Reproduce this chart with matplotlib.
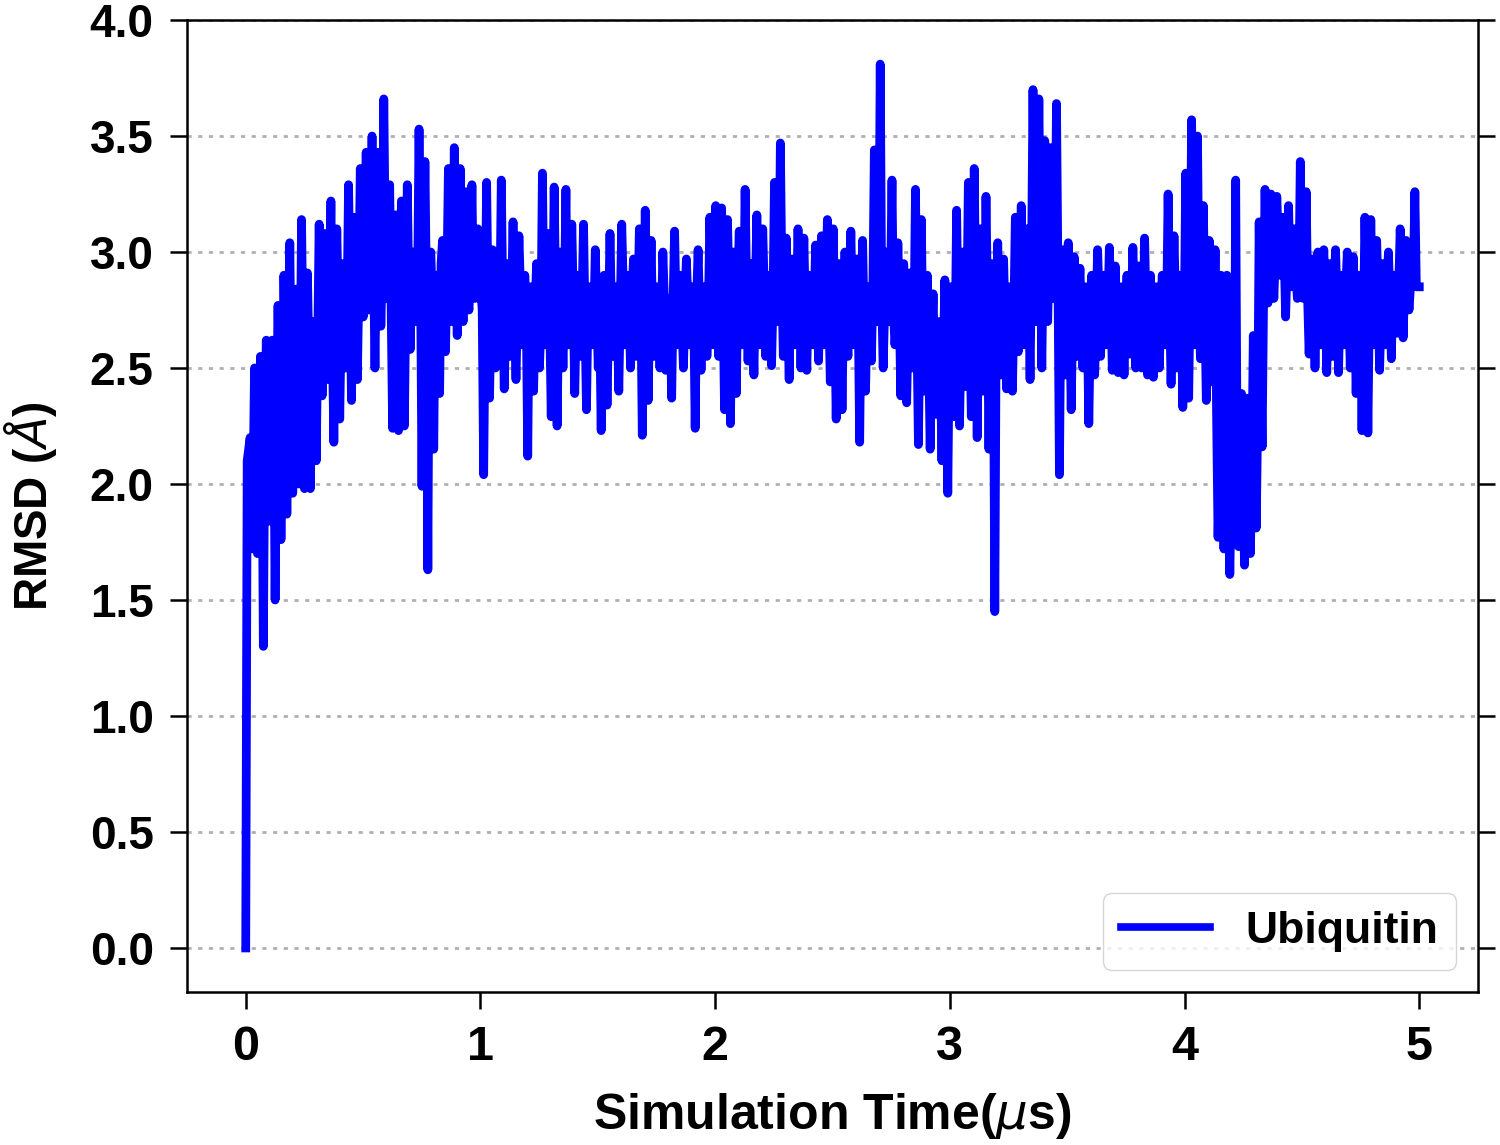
import matplotlib.pyplot as plt
import numpy as np

plt.rcParams['font.family'] = ['Liberation Sans', 'DejaVu Sans']
plt.rcParams['mathtext.fontset'] = 'dejavusans'

# RMSD (A): spike values, 40 per 0.5 us block
rmsd_00 = [0.0, 2.15, 1.72, 2.5, 1.7, 2.55, 1.3, 2.62, 1.84, 2.62,
           1.5, 2.77, 1.76, 2.9, 1.87, 3.04, 1.96, 2.84, 2.0, 3.14,
           1.98, 2.91, 1.98, 2.7, 2.1, 3.12, 2.38, 3.08, 2.45, 3.22,
           2.18, 3.1, 2.28, 2.95, 2.5, 3.29, 2.36, 3.15, 2.45, 3.36]
rmsd_05 = [2.72, 3.43, 2.75, 3.5, 2.5, 3.43, 2.68, 3.66, 2.8, 3.29,
           2.24, 3.16, 2.23, 3.22, 2.25, 3.29, 2.58, 3.0, 2.7, 3.53,
           1.99, 3.39, 1.63, 3.0, 2.15, 2.9, 2.39, 3.05, 2.57, 3.36,
           2.7, 3.45, 2.64, 3.36, 2.7, 3.26, 2.75, 3.29, 2.8, 3.1]
rmsd_10 = [2.85, 2.04, 3.3, 2.37, 3.01, 2.5, 2.9, 3.31, 2.41, 2.95,
           2.55, 3.13, 2.45, 3.07, 2.6, 2.9, 2.12, 2.85, 2.4, 2.95,
           2.5, 3.34, 2.6, 3.08, 2.29, 3.28, 2.25, 3.0, 2.5, 3.27,
           2.6, 3.12, 2.39, 2.9, 2.55, 3.12, 2.32, 2.85, 2.6, 3.01]
rmsd_15 = [2.5, 2.23, 2.9, 2.34, 3.08, 2.55, 2.85, 2.4, 3.12, 2.6,
           2.9, 2.5, 2.97, 2.55, 3.1, 2.21, 3.18, 2.36, 3.05, 2.55,
           2.85, 2.5, 3.0, 2.49, 2.8, 2.37, 3.09, 2.6, 2.9, 2.5,
           2.97, 2.6, 2.85, 2.24, 3.01, 2.49, 2.85, 2.55, 3.15, 2.6]
rmsd_20 = [3.2, 2.55, 3.19, 2.32, 3.14, 2.26, 3.0, 2.39, 3.09, 2.6,
           3.27, 2.53, 2.95, 2.47, 3.16, 2.6, 3.1, 2.55, 2.9, 2.51,
           3.3, 2.7, 3.47, 2.55, 3.06, 2.45, 2.97, 2.6, 3.1, 2.5,
           3.06, 2.49, 2.9, 2.6, 3.03, 2.53, 3.07, 2.6, 3.14, 2.44]
rmsd_25 = [3.1, 2.28, 2.95, 2.32, 3.0, 2.55, 3.09, 2.6, 2.97, 2.18,
           3.05, 2.4, 2.85, 2.53, 3.44, 2.7, 3.81, 2.5, 3.0, 2.7,
           3.31, 2.6, 3.04, 2.38, 2.95, 2.35, 2.91, 2.5, 3.27, 2.17,
           3.14, 2.4, 2.9, 2.15, 2.82, 2.3, 2.7, 2.1, 2.88, 1.96]
rmsd_30 = [2.85, 2.29, 3.18, 2.25, 3.0, 2.42, 3.3, 2.29, 3.36, 2.2,
           3.1, 2.4, 3.24, 2.15, 2.95, 1.45, 3.04, 2.47, 2.97, 2.41,
           2.85, 2.4, 3.15, 2.57, 3.2, 2.6, 3.1, 2.45, 3.7, 2.7,
           3.66, 2.5, 3.48, 2.7, 3.45, 2.8, 3.64, 2.04, 3.01, 2.47]
rmsd_35 = [3.04, 2.32, 2.98, 2.55, 2.93, 2.5, 2.85, 2.26, 2.9, 2.47,
           3.01, 2.55, 2.9, 2.6, 3.02, 2.49, 2.94, 2.48, 2.85, 2.47,
           2.9, 2.56, 3.02, 2.5, 2.94, 2.5, 3.06, 2.47, 2.9, 2.46,
           2.85, 2.5, 2.9, 2.6, 3.25, 2.43, 3.07, 2.5, 2.9, 2.33]
rmsd_40 = [3.34, 2.37, 3.57, 2.6, 3.5, 2.54, 3.2, 2.36, 3.05, 2.44,
           3.01, 1.77, 2.9, 1.72, 2.9, 1.61, 2.3, 3.31, 1.73, 2.39,
           1.65, 2.37, 1.7, 2.64, 1.81, 3.13, 2.16, 3.27, 2.78, 3.25,
           2.8, 3.24, 2.9, 3.15, 2.72, 3.2, 2.85, 3.1, 2.8, 3.39]
rmsd_45 = [2.8, 3.26, 2.56, 2.97, 2.5, 3.0, 2.6, 3.01, 2.48, 2.95,
           2.55, 3.01, 2.48, 2.9, 2.6, 3.0, 2.5, 2.98, 2.39, 2.9,
           2.23, 3.15, 2.22, 3.14, 2.6, 3.05, 2.49, 2.95, 2.6, 3.0,
           2.54, 2.9, 2.65, 3.1, 2.63, 3.05, 2.75, 2.95, 3.26, 2.85]

core_00 = [2.1, 2.2, 2.0, 2.2, 2.1, 2.3, 2.2, 2.3, 2.2, 2.4,
           2.3, 2.35, 2.3, 2.5, 2.4, 2.45, 2.45, 2.5, 2.4, 2.6,
           2.5, 2.55, 2.45, 2.6, 2.6, 2.7, 2.65, 2.7, 2.75, 2.6,
           2.7, 2.75, 2.7, 2.8, 2.75, 2.85, 2.8, 2.9, 2.85, 2.9]
core_05 = [2.95, 3.0, 3.05, 2.95, 3.0, 3.1, 2.95, 3.05, 2.9, 2.75,
           2.8, 2.7, 2.85, 2.9, 2.8, 2.85, 2.9, 2.95, 2.85, 2.9,
           2.8, 2.85, 2.95, 2.8, 2.85, 2.9, 2.95, 2.85, 2.9, 3.0,
           2.9, 2.85, 2.95, 2.85, 2.9, 2.8, 2.9, 2.85, 2.95, 2.8]
core_10 = [2.75, 2.7, 2.8, 2.75, 2.7, 2.85, 2.75, 2.8, 2.7, 2.75,
           2.8, 2.7, 2.75, 2.85, 2.7, 2.75, 2.8, 2.7, 2.75, 2.8,
           2.7, 2.75, 2.85, 2.7, 2.75, 2.8, 2.7, 2.75, 2.8, 2.7,
           2.75, 2.8, 2.7, 2.75, 2.8, 2.7, 2.75, 2.8, 2.7, 2.75]
core_15 = [2.7, 2.75, 2.8, 2.7, 2.75, 2.8, 2.7, 2.75, 2.85, 2.7,
           2.75, 2.8, 2.7, 2.75, 2.8, 2.7, 2.8, 2.75, 2.7, 2.8,
           2.75, 2.7, 2.8, 2.75, 2.7, 2.8, 2.75, 2.85, 2.7, 2.75,
           2.8, 2.7, 2.75, 2.8, 2.75, 2.7, 2.8, 2.75, 2.85, 2.8]
core_20 = [2.8, 2.85, 2.75, 2.8, 2.85, 2.75, 2.8, 2.85, 2.8, 2.75,
           2.85, 2.8, 2.75, 2.85, 2.8, 2.75, 2.85, 2.8, 2.75, 2.8,
           2.85, 2.8, 2.9, 2.8, 2.75, 2.85, 2.8, 2.75, 2.85, 2.8,
           2.75, 2.8, 2.85, 2.75, 2.8, 2.85, 2.75, 2.8, 2.75, 2.7]
core_25 = [2.75, 2.7, 2.8, 2.75, 2.7, 2.8, 2.75, 2.7, 2.75, 2.8,
           2.7, 2.75, 2.8, 2.85, 2.9, 2.85, 2.8, 2.75, 2.8, 2.85,
           2.75, 2.7, 2.75, 2.7, 2.65, 2.7, 2.75, 2.7, 2.65, 2.7,
           2.6, 2.65, 2.55, 2.6, 2.5, 2.55, 2.5, 2.55, 2.5, 2.6]
core_30 = [2.65, 2.6, 2.7, 2.65, 2.7, 2.75, 2.7, 2.75, 2.8, 2.7,
           2.75, 2.7, 2.8, 2.75, 2.7, 2.75, 2.7, 2.75, 2.7, 2.75,
           2.7, 2.75, 2.8, 2.75, 2.8, 2.85, 2.9, 2.95, 3.05, 3.0,
           3.05, 3.0, 2.95, 3.0, 3.05, 2.95, 2.9, 2.8, 2.75, 2.7]
core_35 = [2.75, 2.7, 2.75, 2.8, 2.7, 2.75, 2.7, 2.65, 2.7, 2.75,
           2.8, 2.75, 2.7, 2.75, 2.8, 2.75, 2.7, 2.75, 2.7, 2.75,
           2.7, 2.75, 2.8, 2.7, 2.75, 2.7, 2.75, 2.8, 2.7, 2.75,
           2.7, 2.75, 2.7, 2.75, 2.8, 2.75, 2.8, 2.7, 2.75, 2.7]
core_40 = [2.8, 2.85, 2.9, 2.85, 2.8, 2.85, 2.75, 2.7, 2.65, 2.5,
           2.3, 2.1, 2.2, 2.0, 2.1, 1.95, 2.0, 2.1, 1.95, 2.05,
           1.95, 2.0, 2.05, 2.1, 2.3, 2.6, 2.8, 2.9, 3.0, 2.95,
           3.0, 3.05, 2.95, 3.0, 2.95, 2.9, 2.95, 2.9, 2.85, 2.9]
core_45 = [2.85, 2.8, 2.75, 2.8, 2.75, 2.8, 2.85, 2.8, 2.75, 2.8,
           2.85, 2.8, 2.75, 2.8, 2.85, 2.8, 2.75, 2.8, 2.7, 2.75,
           2.7, 2.8, 2.75, 2.8, 2.85, 2.8, 2.75, 2.8, 2.85, 2.8,
           2.85, 2.8, 2.85, 2.9, 2.85, 2.9, 2.85, 2.9, 2.85, 2.85]

spikes = np.concatenate([rmsd_00, rmsd_05, rmsd_10, rmsd_15, rmsd_20,
                         rmsd_25, rmsd_30, rmsd_35, rmsd_40, rmsd_45])
core = np.concatenate([core_00, core_05, core_10, core_15, core_20,
                       core_25, core_30, core_35, core_40, core_45])
rmsd = np.column_stack([spikes, core]).ravel()
time = np.linspace(0, 5, len(rmsd))

y_ticks = [0.0, 0.5, 1.0, 1.5, 2.0, 2.5, 3.0, 3.5, 4.0]
x_ticks = [0, 1, 2, 3, 4, 5]

fig = plt.figure(figsize=(15, 11.45), dpi=100)
ax = fig.add_axes([0.1247, 0.1336, 0.8606, 0.8489])

ax.plot(time, rmsd, color='#0000ff', lw=6.3, label='Ubiquitin')

ax.set_xlim(-0.25, 5.25)
ax.set_ylim(-0.19, 4.0)
ax.set_xticks(x_ticks)
ax.set_yticks(y_ticks)
ax.set_xticklabels([str(v) for v in x_ticks], fontsize=35, fontweight='bold')
ax.set_yticklabels(['%.1f' % v for v in y_ticks], fontsize=33, fontweight='bold')
ax.yaxis.set_ticks_position('both')
ax.tick_params(axis='y', length=12, width=1.8, pad=12)
ax.tick_params(axis='x', length=12, width=1.8, pad=12)

ax.yaxis.grid(True, color='#b0b0b0', lw=2, dashes=(1.5, 2.35))
ax.set_axisbelow(True)
for s in ax.spines.values():
    s.set_linewidth(1.8)

ax.set_xlabel(r'Simulation Time($\mu$s)', fontsize=36, fontweight='bold', labelpad=15)
ax.set_ylabel(r'RMSD ($\AA$)', fontsize=33, fontweight='bold', labelpad=22)

leg = ax.legend(loc='lower right', prop={'size': 32, 'weight': 'bold'}, edgecolor='#cccccc')
leg.get_lines()[0].set_linewidth(5.5)

fig.savefig('out.png', dpi=100)
